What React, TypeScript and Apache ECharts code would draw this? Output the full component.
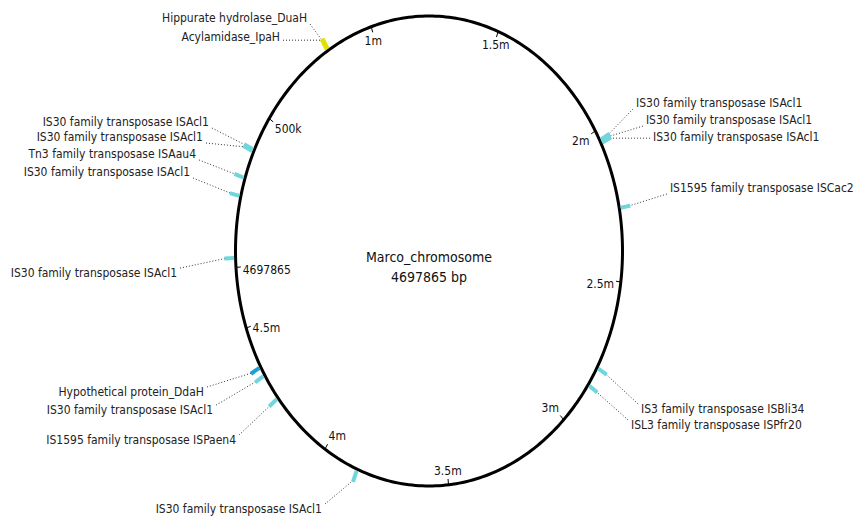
import React, { useEffect, useRef } from 'react';
import * as echarts from 'echarts';

// ---------- data ----------
const SEQUENCE_NAME = 'Marco_chromosome';
const GENOME_LENGTH = 4697865;

const tickPositions = [0, 500000, 1000000, 1500000, 2000000, 2500000, 3000000, 3500000, 4000000, 4500000];
const tickLabels = ['4697865', '500k', '1m', '1.5m', '2m', '2.5m', '3m', '3.5m', '4m', '4.5m'];

const featureNames = [
  'Hippurate hydrolase_DuaH',
  'Acylamidase_IpaH',
  'IS30 family transposase ISAcl1',
  'IS30 family transposase ISAcl1',
  'Tn3 family transposase ISAau4',
  'IS30 family transposase ISAcl1',
  'IS30 family transposase ISAcl1',
  'IS30 family transposase ISAcl1',
  'IS30 family transposase ISAcl1',
  'IS30 family transposase ISAcl1',
  'IS1595 family transposase ISCac2',
  'IS3 family transposase ISBli34',
  'ISL3 family transposase ISPfr20',
  'IS30 family transposase ISAcl1',
  'IS1595 family transposase ISPaen4',
  'IS30 family transposase ISAcl1',
  'Hypothetical protein_DdaH',
];
const featurePositions = [
  814000, 818000, 384000, 378000, 288000, 228000, 30000,
  2034000, 2040000, 2046000, 2264000, 2790000, 2854000,
  3860000, 4245000, 4334000, 4364000,
];
const featureKinds = [
  'hydrolase', 'hydrolase', 'transposase', 'transposase', 'transposase', 'transposase', 'transposase',
  'transposase', 'transposase', 'transposase', 'transposase', 'transposase', 'transposase',
  'transposase', 'transposase', 'transposase', 'hypothetical',
];

// ---------- layout (label anchors in normalised ellipse space, styles) ----------
const START_DEG = 266;
const labelLayout = [
  { x: -0.630, y: 0.991, align: 'right' },
  { x: -0.770, y: 0.911, align: 'right' },
  { x: -1.137, y: 0.549, align: 'right' },
  { x: -1.168, y: 0.485, align: 'right' },
  { x: -1.204, y: 0.413, align: 'right' },
  { x: -1.235, y: 0.336, align: 'right' },
  { x: -1.302, y: -0.094, align: 'right' },
  { x: 1.070, y: 0.630, align: 'left' },
  { x: 1.121, y: 0.557, align: 'left' },
  { x: 1.158, y: 0.485, align: 'left' },
  { x: 1.245, y: 0.268, align: 'left' },
  { x: 1.096, y: -0.672, align: 'left' },
  { x: 1.044, y: -0.740, align: 'left' },
  { x: -0.553, y: -1.098, align: 'right' },
  { x: -0.997, y: -0.804, align: 'right' },
  { x: -1.116, y: -0.677, align: 'right' },
  { x: -1.163, y: -0.600, align: 'right' },
];
const kindColors: Record<string, string> = {
  hydrolase: '#e2e000',
  transposase: '#6fd6dc',
  hypothetical: '#1f9fd2',
};
const FONT = '"DejaVu Sans Condensed", "Liberation Sans", sans-serif';

function unit(bp: number, r: number): [number, number] {
  const t = ((START_DEG + (bp / GENOME_LENGTH) * 360) * Math.PI) / 180;
  return [r * Math.sin(t), r * Math.cos(t)];
}

export default function App() {
  const ref = useRef<HTMLDivElement>(null);
  useEffect(() => {
    if (!ref.current) return;
    const chart = echarts.init(ref.current, undefined, { renderer: 'svg' });

    const option: any = {
      animation: false,
      backgroundColor: '#ffffff',
      grid: { left: 235.5, top: 16, width: 387, height: 470 },
      xAxis: { type: 'value', min: -1, max: 1, show: false },
      yAxis: { type: 'value', min: -1, max: 1, show: false },
      series: [
        {
          type: 'custom',
          name: 'backbone',
          clip: false,
          silent: true,
          data: [[0, 0]],
          renderItem: (params: any, api: any) => {
            const pts: number[][] = [];
            for (let d = 0; d <= 360; d += 1) {
              pts.push(api.coord(unit((d / 360) * GENOME_LENGTH, 1)));
            }
            const c = api.coord([0, 0]);
            return {
              type: 'group',
              children: [
                { type: 'polyline', shape: { points: pts }, style: { stroke: '#000', lineWidth: 3, fill: null } },
                {
                  type: 'text', x: c[0], y: c[1] + 6,
                  style: { text: SEQUENCE_NAME, align: 'center', verticalAlign: 'middle', fontSize: 14, fontFamily: FONT, fill: '#111' },
                },
                {
                  type: 'text', x: c[0], y: c[1] + 26,
                  style: { text: `${GENOME_LENGTH} bp`, align: 'center', verticalAlign: 'middle', fontSize: 14, fontFamily: FONT, fill: '#111' },
                },
              ],
            };
          },
        },
        {
          type: 'custom',
          name: 'ticks',
          clip: false,
          silent: true,
          data: tickPositions.map((p) => [p, 0]),
          renderItem: (params: any, api: any) => {
            const i = params.dataIndex;
            const bp = api.value(0);
            const p0 = api.coord(unit(bp, 1.0));
            const p1 = api.coord(unit(bp, 0.975));
            const pl = api.coord(unit(bp, 0.965));
            const t = ((START_DEG + (bp / GENOME_LENGTH) * 360) * Math.PI) / 180;
            const ix = -Math.sin(t);
            const iy = Math.cos(t);
            const align = ix > 0.4 ? 'left' : ix < -0.4 ? 'right' : 'center';
            const valign = iy > 0.35 ? 'top' : iy < -0.35 ? 'bottom' : 'middle';
            return {
              type: 'group',
              children: [
                { type: 'line', shape: { x1: p0[0], y1: p0[1], x2: p1[0], y2: p1[1] }, style: { stroke: '#000', lineWidth: 1 } },
                {
                  type: 'text', x: pl[0], y: pl[1] + (valign === 'middle' ? 3 : 0),
                  style: { text: tickLabels[i], align, verticalAlign: valign, fontSize: 12, fontFamily: FONT, fill: '#111' },
                },
              ],
            };
          },
        },
        {
          type: 'custom',
          name: 'features',
          clip: false,
          silent: true,
          data: featurePositions.map((p) => [p, 0]),
          renderItem: (params: any, api: any) => {
            const i = params.dataIndex;
            const bp = api.value(0);
            const b0 = api.coord(unit(bp, 1.008));
            const b1 = api.coord(unit(bp, 1.058));
            const pOut = api.coord(unit(bp, 1.05));
            const lay = labelLayout[i];
            const anchor = api.coord([lay.x, lay.y]);
            const ax = lay.align === 'right' ? anchor[0] + 3 : anchor[0] - 3;
            const ay = Math.min(Math.max(pOut[1], anchor[1] - 5), anchor[1] + 6);
            const color = kindColors[featureKinds[i]];
            return {
              type: 'group',
              children: [
                {
                  type: 'line', shape: { x1: ax, y1: ay, x2: pOut[0], y2: pOut[1] },
                  style: { stroke: '#333', lineWidth: 1, lineDash: [1, 2] },
                },
                {
                  type: 'line', shape: { x1: b0[0], y1: b0[1], x2: b1[0], y2: b1[1] },
                  style: { stroke: color, lineWidth: 4 },
                },
                {
                  type: 'text', x: anchor[0], y: anchor[1],
                  style: { text: featureNames[i], align: lay.align, verticalAlign: 'middle', fontSize: 12, fontFamily: FONT, fill: '#222' },
                },
              ],
            };
          },
        },
      ],
    };
    chart.setOption(option);
    return () => chart.dispose();
  }, []);
  return <div ref={ref} style={{ position: 'fixed', left: 0, top: 0, width: 853, height: 518 }} />;
}
